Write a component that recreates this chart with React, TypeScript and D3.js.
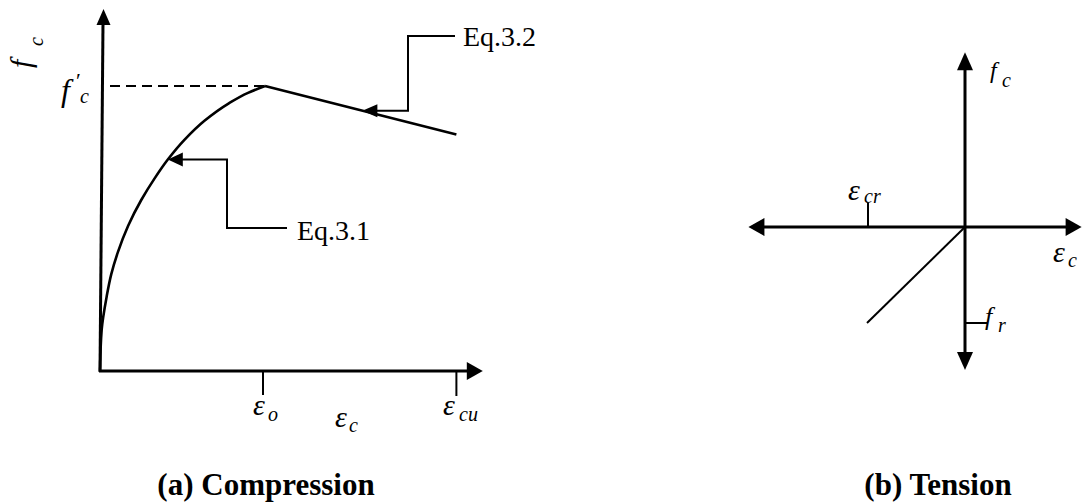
import React from "react";
import * as d3 from "d3";

// Compression branch (Eq. 3.1): strain / eps_o vs stress / f'c
const ascStrain = [0, 0.01, 0.04, 0.068, 0.109, 0.17, 0.25, 0.33, 0.411, 0.513, 0.635, 0.776, 0.897, 1];
const ascStress = [0, 0.144, 0.26, 0.339, 0.418, 0.509, 0.6, 0.675, 0.742, 0.812, 0.879, 0.9375, 0.976, 1];
// Softening branch (Eq. 3.2): from peak to ultimate strain
const descStrain = [1, 2.16];
const descStress = [1, 0.83];
// Strain marks on the compression axis
const strainTicks = [
  { key: "o", value: 1 },
  { key: "cu", value: 2.16 },
];
// Tension: linear branch from origin to cracking point (eps_cr, -f_r)
const tensionStrain = [0, -1];
const tensionStress = [0, -1];

const SERIF = "'Liberation Serif', 'Times New Roman', 'DejaVu Serif', serif";

type Dir = "up" | "down" | "left" | "right";
function arrowHead(tx: number, ty: number, dir: Dir, len: number, half: number) {
  let pts: [number, number][];
  if (dir === "up") pts = [[tx, ty], [tx - half, ty + len], [tx + half, ty + len]];
  else if (dir === "down") pts = [[tx, ty], [tx - half, ty - len], [tx + half, ty - len]];
  else if (dir === "left") pts = [[tx, ty], [tx + len, ty - half], [tx + len, ty + half]];
  else pts = [[tx, ty], [tx - len, ty - half], [tx - len, ty + half]];
  return pts.map((p) => p.join(",")).join(" ");
}

const italic = { fontFamily: SERIF, fontStyle: "italic" } as const;
const roman = { fontFamily: SERIF } as const;

function Sym({ x, y, main, sub, size = 30, subSize = 20, dx = 15, dy = 6 }: any) {
  return (
    <g fill="#000">
      <text x={x} y={y} style={{ ...italic, fontSize: size }}>{main}</text>
      <text x={x + dx} y={y + dy} style={{ ...italic, fontSize: subSize }}>{sub}</text>
    </g>
  );
}

export default function App() {
  // Compression panel scales
  const xA = d3.scaleLinear().domain([0, 1]).range([100, 265]);
  const yA = d3.scaleLinear().domain([0, 1]).range([371, 86]);
  const xAmax = 2.32;
  const yAmax = 1.27;

  // strain expressed as a smooth monotone function of stress
  const ascPath = d3
    .line<[number, number]>()
    .x((d) => xA(d[0]))
    .y((d) => yA(d[1]))
    .curve(d3.curveMonotoneY)(ascStrain.map((s, i) => [s, ascStress[i]]))!;
  const descPath = d3
    .line<[number, number]>()
    .x((d) => xA(d[0]))
    .y((d) => yA(d[1]))(descStrain.map((s, i) => [s, descStress[i]]))!;

  // Callout anchors on the two branches
  const eq31 = { x: xA(ascStrain[8]), y: yA(ascStress[8]) };
  const t32 = (1.59 - descStrain[0]) / (descStrain[1] - descStrain[0]);
  const eq32 = {
    x: xA(1.59),
    y: yA(descStress[0] + t32 * (descStress[1] - descStress[0])),
  };

  // Tension panel scales
  const xB = d3.scaleLinear().domain([-1, 0]).range([867, 965]);
  const yB = d3.scaleLinear().domain([-1, 0]).range([323, 227]);
  const ox = xB(0);
  const oy = yB(0);
  const crX = xB(tensionStrain[1]);
  const frY = yB(tensionStress[1]);

  const o0x = xA(0);
  const o0y = yA(0);
  const epsO = xA(strainTicks[0].value);
  const epsCu = xA(strainTicks[1].value);

  return (
    <svg
      width={1087}
      height={504}
      style={{ position: "absolute", left: 0, top: 0, background: "#fff" }}
    >
      <rect width={1087} height={504} fill="#fff" />

      {/* ---------- (a) Compression ---------- */}
      <g stroke="#000" fill="none">
        <line x1={o0x} y1={o0y + 1} x2={o0x + 3} y2={yA(yAmax) + 14} strokeWidth={3} />
        <line x1={o0x - 1} y1={o0y} x2={xA(xAmax) - 14} y2={o0y} strokeWidth={3} />
        <line x1={o0x + 10} y1={yA(1)} x2={xA(1)} y2={yA(1)} strokeWidth={2} strokeDasharray="10 6" />
        <path d={ascPath} strokeWidth={2.6} />
        <path d={descPath} strokeWidth={2.6} />
        <line x1={epsO - 2} y1={o0y} x2={epsO - 2} y2={o0y + 24} strokeWidth={2} />
        <line x1={epsCu} y1={o0y} x2={epsCu} y2={o0y + 25} strokeWidth={2} />
        {/* callout for Eq.3.1 */}
        <polyline
          points={`${eq31.x + 12},${eq31.y} 227,${eq31.y} 227,228 287,228`}
          strokeWidth={2}
        />
        {/* callout for Eq.3.2 */}
        <polyline
          points={`${eq32.x + 12},${eq32.y} 408,${eq32.y} 408,36 455,36`}
          strokeWidth={2}
        />
      </g>
      <g fill="#000">
        <polygon points={arrowHead(o0x + 3.5, yA(yAmax), "up", 16, 7)} />
        <polygon points={arrowHead(xA(xAmax), o0y, "right", 16, 9)} />
        <polygon points={arrowHead(eq31.x, eq31.y, "left", 15, 7)} />
        <polygon points={arrowHead(eq32.x, eq32.y, "left", 15, 6.5)} />
      </g>

      <g fill="#000">
        <text x={297} y={240} style={{ ...roman, fontSize: 28 }}>Eq.3.1</text>
        <text x={463} y={46} style={{ ...roman, fontSize: 28 }}>Eq.3.2</text>
      </g>

      {/* f_c rotated axis title */}
      <g fill="#000">
        <text transform="translate(31,68) rotate(-90)" style={{ ...italic, fontSize: 30 }}>f</text>
        <text transform="translate(43,46) rotate(-90)" style={{ ...italic, fontSize: 20 }}>c</text>
      </g>
      {/* f'_c */}
      <g fill="#000">
        <text x={61} y={101} style={{ ...italic, fontSize: 32 }}>f</text>
        <text x={76} y={88} style={{ ...roman, fontSize: 22 }}>′</text>
        <text x={80} y={103} style={{ ...italic, fontSize: 20 }}>c</text>
      </g>
      <Sym x={253} y={415} main="ε" sub="o" />
      <Sym x={335} y={427} main="ε" sub="c" dx={14} dy={5} />
      <Sym x={443} y={415} main="ε" sub="cu" dx={16} dy={6} />

      <text
        x={266}
        y={495}
        textAnchor="middle"
        style={{ ...roman, fontWeight: "bold", fontSize: 31 }}
      >
        (a) Compression
      </text>

      {/* ---------- (b) Tension ---------- */}
      <g stroke="#000" fill="none">
        <line x1={xB(-2.21) + 14} y1={oy} x2={xB(1.19) - 14} y2={oy} strokeWidth={3} />
        <line x1={ox} y1={yB(1.82) + 16} x2={ox} y2={yB(-1.49) - 16} strokeWidth={3} />
        <line x1={ox} y1={oy} x2={crX} y2={frY} strokeWidth={2} />
        <line x1={crX + 1} y1={oy} x2={crX + 1} y2={oy - 24} strokeWidth={2} />
        <line x1={ox} y1={frY} x2={ox + 22} y2={frY} strokeWidth={2} />
      </g>
      <g fill="#000">
        <polygon points={arrowHead(xB(-2.21), oy, "left", 16, 9)} />
        <polygon points={arrowHead(xB(1.19), oy, "right", 16, 9)} />
        <polygon points={arrowHead(ox, yB(1.82), "up", 18, 8)} />
        <polygon points={arrowHead(ox, yB(-1.49), "down", 18, 8)} />
      </g>
      <Sym x={990} y={78} main="f" sub="c" size={24} subSize={20} dx={12} dy={9} />
      <Sym x={1053} y={262} main="ε" sub="c" dx={15} dy={5} />
      <Sym x={848} y={200} main="ε" sub="cr" dx={16} dy={3} />
      <Sym x={985} y={325} main="f" sub="r" size={26} subSize={20} dx={13} dy={7} />

      <text
        x={938}
        y={495}
        textAnchor="middle"
        style={{ ...roman, fontWeight: "bold", fontSize: 31 }}
      >
        (b) Tension
      </text>
    </svg>
  );
}
